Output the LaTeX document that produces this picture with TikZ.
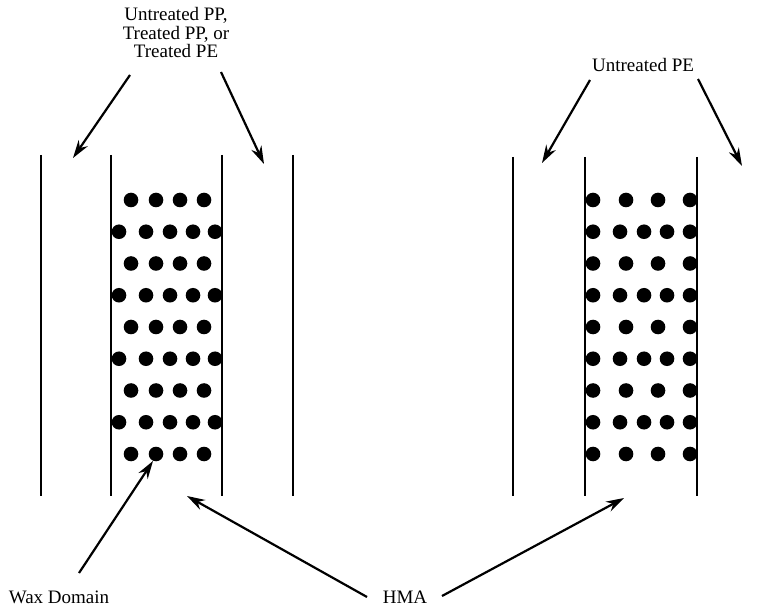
\documentclass[tikz,border=0pt]{standalone}
\usepackage{fontspec}
\setmainfont{Liberation Serif}
\usetikzlibrary{arrows.meta}
\tikzset{
  wall/.style={line width=1.5pt},
  wax/.style={circle,fill=black,inner sep=0pt,minimum size=14.6pt},
  lbl/.style={font=\fontsize{19}{18.5}\selectfont,align=center,inner sep=0pt},
  pointer/.style={line width=2.2pt,-{Stealth[length=18pt,width=11pt]}}
}
\begin{document}
\begin{tikzpicture}[x=1pt,y=-1pt]
  \useasboundingbox (0,0) rectangle (763,609);
  % film walls
  \foreach \x in {41,111,222,293} \draw[wall] (\x,155) -- (\x,496);
  \foreach \x in {513,585,697} \draw[wall] (\x,157) -- (\x,496);
  % wax domains, left
  \foreach \r in {0,2,4,6,8}
    \foreach \x in {131,156,180,204}
      \node[wax] (L\r-\x) at (\x,200+31.75*\r) {};
  \foreach \r in {1,3,5,7}
    \foreach \x in {119,146,170,193,215}
      \node[wax] (L\r-\x) at (\x,200+31.75*\r) {};
  % wax domains, right
  \foreach \r in {0,2,4,6,8}
    \foreach \x in {593,626,658,690}
      \node[wax] (R\r-\x) at (\x,200+31.75*\r) {};
  \foreach \r in {1,3,5,7}
    \foreach \x in {593,620,644,667,690}
      \node[wax] (R\r-\x) at (\x,200+31.75*\r) {};
  % labels
  \draw
    (176,33) node[lbl] (surf){Untreated PP,\\Treated PP, or\\Treated PE}
    (643,65) node[lbl] (upe){Untreated PE}
    (59,597) node[lbl] (wd){Wax Domain}
    (405,597) node[lbl] (hma){HMA};
  \coordinate (s1) at (130,75);  \coordinate (t1) at (73,158);
  \coordinate (s2) at (221,72);  \coordinate (t2) at (264,164);
  \coordinate (s3) at (590,80);  \coordinate (t3) at (542,163);
  \coordinate (s4) at (698,79);  \coordinate (t4) at (742,166);
  \coordinate (s5) at (79,573);  \coordinate (t5) at (153,461);
  \coordinate (s6) at (367,597); \coordinate (t6) at (187,496);
  \coordinate (s7) at (442,596); \coordinate (t7) at (624,498);
  \begin{scope}[pointer]
    \draw (s1) to (t1);
    \draw (s2) to (t2);
    \draw (s3) to (t3);
    \draw (s4) to (t4);
    \draw (s5) to (t5);
    \draw (s6) to (t6);
    \draw (s7) to (t7);
  \end{scope}
\end{tikzpicture}
\end{document}
